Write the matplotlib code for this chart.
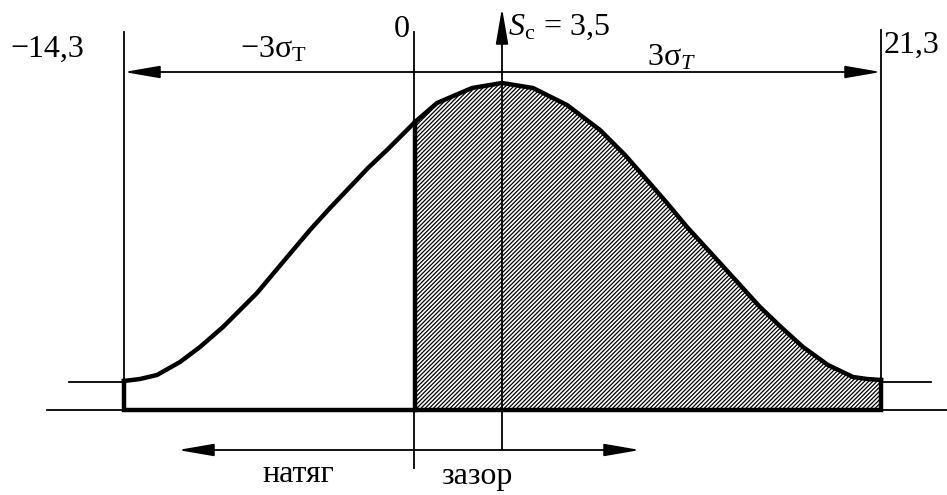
"""Normal distribution of fit: interference / clearance split (schematic)."""

import matplotlib

matplotlib.use("Agg")
import matplotlib.pyplot as plt  # noqa: E402

plt.rcParams.update(
    {
        "figure.dpi": 100,
        "savefig.dpi": 100,
        "font.family": ["Liberation Serif", "DejaVu Serif"],
        "font.size": 23,
        "mathtext.fontset": "custom",
        "mathtext.rm": "Liberation Serif",
        "mathtext.it": "Liberation Serif:italic",
        "hatch.linewidth": 0.9,
        "hatch.color": "black",
    }
)

W, H = 947, 495

curve_x = [124, 140, 157, 180, 200, 223, 240, 257, 283, 310, 330, 350, 368,
           387, 415, 437, 472, 502, 533, 567, 600, 625, 647, 667, 687, 720,
           740, 760, 782, 803, 828, 853, 867, 881]
curve_y = [381, 379, 375, 362, 347, 327, 310, 293, 262, 230, 208, 187, 168,
           150, 122, 103, 88, 83, 88, 105, 130, 155, 180, 203, 227, 263,
           285, 307, 328, 347, 365, 377, 379, 380]

base_y = 410
tail_y = 382
left_x, zero_x, mean_x, right_x = 124, 415, 502, 881

value_labels = ["\u221214,3", "0", "21,3"]
value_pos = [(47, 57), (402, 37), (912, 53)]

THIN = 1.3
THICK = 3.2


def arrow(ax, start, end, style="-|>"):
    ax.annotate(
        "",
        xy=end,
        xytext=start,
        arrowprops=dict(
            arrowstyle=f"{style},head_length=2.2,head_width=0.38",
            mutation_scale=10,
            lw=THIN,
            color="black",
            shrinkA=0,
            shrinkB=0,
        ),
    )


fig = plt.figure(figsize=(W / 100, H / 100))
ax = fig.add_axes([0, 0, 1, 1])
ax.set_xlim(0, W)
ax.set_ylim(H, 0)
ax.axis("off")

# hatched clearance region (right of zero)
i0 = curve_x.index(zero_x)
ax.fill_between(
    curve_x[i0:], curve_y[i0:], base_y,
    facecolor="white", edgecolor="black", hatch="////////", linewidth=0,
)

# thin construction lines
ax.plot([47, W], [base_y, base_y], color="black", lw=THIN)
ax.plot([69, left_x], [tail_y, tail_y], color="black", lw=THIN)
ax.plot([right_x, 931], [tail_y, tail_y], color="black", lw=THIN)
ax.plot([left_x, left_x], [32, tail_y], color="black", lw=THIN)
ax.plot([right_x, right_x], [30, tail_y], color="black", lw=THIN)
ax.plot([zero_x - 1, zero_x - 1], [32, 468], color="black", lw=THIN)
ax.plot([mean_x, mean_x], [base_y, 450], color="black", lw=THIN)
arrow(ax, (mean_x, base_y), (mean_x, 8))

# dimension arrows
arrow(ax, (left_x, 72), (right_x, 72), style="<|-|>")
arrow(ax, (178, 450), (640, 450), style="<|-|>")

# distribution outline
ax.plot(curve_x, curve_y, color="black", lw=THICK, solid_joinstyle="round")
ax.plot([left_x, left_x, right_x, right_x], [curve_y[0], base_y, base_y, curve_y[-1]],
        color="black", lw=THICK, solid_joinstyle="miter")
ax.plot([zero_x, zero_x], [curve_y[i0], base_y], color="black", lw=THICK)

# labels
for txt, (x, y) in zip(value_labels, value_pos):
    ax.text(x, y, txt, ha="center", va="baseline")
ax.text(508, 35, r"$S_\mathrm{c}\,=\,\mathrm{3{,}5}$", ha="left", va="baseline")
ax.text(273, 57, "$\\mathrm{\u22123\\sigma_T}$", ha="center", va="baseline")
ax.text(672, 65, r"$\mathrm{3\sigma}_{T}$", ha="center", va="baseline")
ax.text(298, 482, "натяг", ha="center", va="baseline")
ax.text(477, 484, "зазор", ha="center", va="baseline")

fig.savefig("out.png", dpi=100)
